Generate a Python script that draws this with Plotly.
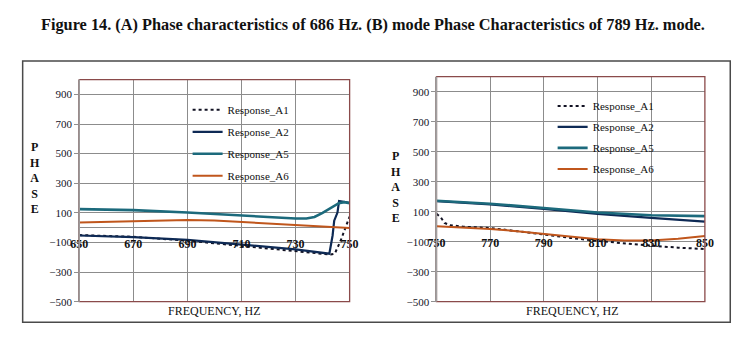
import plotly.graph_objects as go

# ---- Panel A: 650-750 Hz ----
a1_f_left = [650, 670, 690, 710, 730, 743, 744.5, 746.7, 748.5, 750]
a1_p_left = [-50, -62, -88, -125, -158, -182, -176, -87, 2, 75]

a2_f_left = [650, 670, 690, 710, 730, 742.5, 743.7, 744.3, 745.5, 746.1, 748, 750]
a2_p_left = [-53, -64, -82, -116, -147, -176, -53, 47, 102, 180, 172, 168]

a5_f_left = [650, 670, 690, 700, 710, 720, 730, 734, 737, 740, 743, 746, 748, 750]
a5_p_left = [125, 118, 102, 92, 80, 70, 62, 62, 72, 100, 133, 165, 172, 165]

a6_f_left = [650, 660, 670, 680, 690, 700, 710, 720, 730, 740, 750]
a6_p_left = [35, 40, 44, 48, 51, 48, 38, 27, 15, 5, -3]

# ---- Panel B: 750-850 Hz ----
a1_f_right = [750, 751.5, 753, 755, 760, 770, 780, 790, 800, 810, 820, 830, 840, 850]
a1_p_right = [85, 65, 25, 10, 0, -9, -30, -55, -75, -95, -113, -127, -140, -149]

a2_f_right = [750, 770, 790, 810, 830, 850]
a2_p_right = [170, 148, 118, 85, 58, 33]

a5_f_right = [750, 770, 790, 810, 830, 850]
a5_p_right = [173, 153, 124, 94, 76, 70]

a6_f_right = [750, 760, 770, 780, 790, 800, 810, 820, 830, 840, 850]
a6_p_right = [2, -6, -15, -30, -49, -66, -84, -93, -93, -80, -63]

series_names = ["Response_A1", "Response_A2", "Response_A5", "Response_A6"]
x_ticks_left = [650, 670, 690, 710, 730, 750]
x_ticks_right = [750, 770, 790, 810, 830, 850]
y_ticks = [-500, -300, -100, 100, 300, 500, 700, 900]
y_range = [-500, 1000]

W, H = 750, 345
FONT = "Liberation Serif"

colors = ["#111122", "#0e2a55", "#1c6a7c", "#c0561c"]
dashes = ["dot", "solid", "solid", "solid"]
widths = [2, 2.2, 2.6, 2]

def px_x(v):
    return v / W

def px_y(v):
    return 1 - v / H

fig = go.Figure()

left_data = [(a1_f_left, a1_p_left), (a2_f_left, a2_p_left),
             (a5_f_left, a5_p_left), (a6_f_left, a6_p_left)]
right_data = [(a1_f_right, a1_p_right), (a2_f_right, a2_p_right),
              (a5_f_right, a5_p_right), (a6_f_right, a6_p_right)]

for i, (fx, py) in enumerate(left_data):
    fig.add_trace(go.Scatter(
        x=fx, y=py, mode="lines", name=series_names[i],
        line=dict(color=colors[i], width=widths[i], dash=dashes[i]),
        xaxis="x", yaxis="y", legend="legend", legendgroup=f"L{i}"))

for i, (fx, py) in enumerate(right_data):
    fig.add_trace(go.Scatter(
        x=fx, y=py, mode="lines", name=series_names[i],
        line=dict(color=colors[i], width=widths[i], dash=dashes[i]),
        xaxis="x2", yaxis="y2", legend="legend2", legendgroup=f"R{i}"))

# plot-area geometry (pixels)
L_dom_x = [px_x(72), px_x(349)]
R_dom_x = [px_x(438), px_x(713)]
L_dom_y = [px_y(307), px_y(81)]
R_dom_y = [px_y(307), px_y(78)]

def zero_pos(dom):
    frac = (0 - y_range[0]) / (y_range[1] - y_range[0])
    return dom[0] + (dom[1] - dom[0]) * frac

grid = "#8c8c8c"
xtick_font = dict(family=FONT, size=12, color="#111111", weight="bold")
ytick_font = dict(family=FONT, size=11, color="#141428")

common_x = dict(showgrid=True, gridcolor=grid, gridwidth=1, showline=False,
                ticks="outside", ticklen=5, tickcolor="rgba(0,0,0,0)",
                tickfont=xtick_font, zeroline=False, anchor="free")
common_y = dict(range=y_range, tickvals=y_ticks, showgrid=True, gridcolor=grid,
                gridwidth=1, showline=True, linecolor="#a0a0a0", linewidth=1,
                ticks="outside", ticklen=4, tickcolor="#909090",
                tickfont=ytick_font, zeroline=True, zerolinecolor=grid,
                zerolinewidth=1)

fig.update_layout(
    width=W, height=H,
    margin=dict(l=0, r=0, t=0, b=0),
    paper_bgcolor="white", plot_bgcolor="white",
    font=dict(family=FONT, color="#111111"),
    xaxis=dict(domain=L_dom_x, range=[650, 750], tickvals=x_ticks_left,
               position=zero_pos(L_dom_y), **common_x),
    yaxis=dict(domain=L_dom_y, anchor="x", **common_y),
    xaxis2=dict(domain=R_dom_x, range=[750, 850], tickvals=x_ticks_right,
                position=zero_pos(R_dom_y), **common_x),
    yaxis2=dict(domain=R_dom_y, anchor="x2", **common_y),
    legend=dict(x=px_x(183), y=px_y(97), xanchor="left", yanchor="top",
                bgcolor="rgba(0,0,0,0)", font=dict(family=FONT, size=11, color="#111111"),
                traceorder="grouped", tracegroupgap=3, itemwidth=30),
    legend2=dict(x=px_x(557), y=px_y(93), xanchor="left", yanchor="top",
                 bgcolor="rgba(0,0,0,0)", font=dict(family=FONT, size=11, color="#111111"),
                 traceorder="grouped", tracegroupgap=2, itemwidth=30),
    showlegend=True,
)

# plot-area borders
for xr, yr in (("x domain", "y domain"), ("x2 domain", "y2 domain")):
    fig.add_shape(type="rect", xref=xr, yref=yr, x0=0, x1=1, y0=0, y1=1,
                  line=dict(color="#8a4a4a", width=1.3), layer="above")
# left edges keep the grey axis line
for xr, yr in (("x domain", "y domain"), ("x2 domain", "y2 domain")):
    fig.add_shape(type="line", xref=xr, yref=yr, x0=0, x1=0, y0=0, y1=1,
                  line=dict(color="#a0a0a0", width=1.3), layer="above")

# outer frame
fig.add_shape(type="rect", xref="paper", yref="paper",
              x0=px_x(14), x1=px_x(739), y0=px_y(328), y1=px_y(62),
              line=dict(color="#4a4a4a", width=1.5))

# title
fig.add_annotation(
    text="Figure 14. (A) Phase characteristics of 686 Hz. (B) mode Phase Characteristics of 789 Hz. mode.",
    xref="paper", yref="paper", x=px_x(373), y=px_y(25), showarrow=False,
    xanchor="center", yanchor="middle",
    font=dict(family=FONT, size=16.3, color="#111111", weight="bold"))

# axis titles
for cx, cy in ((27, 181), (397, 190)):
    fig.add_annotation(text="P<br>H<br>A<br>S<br>E", xref="paper", yref="paper",
                       x=px_x(cx), y=px_y(cy), showarrow=False,
                       xanchor="center", yanchor="middle", align="center",
                       font=dict(family=FONT, size=12, color="#111111", weight="bold"))
for cx in (210, 577):
    fig.add_annotation(text="FREQUENCY, HZ", xref="paper", yref="paper",
                       x=px_x(cx), y=px_y(317), showarrow=False,
                       xanchor="center", yanchor="middle",
                       font=dict(family=FONT, size=12, color="#111111"))

fig.write_html("out.html")
